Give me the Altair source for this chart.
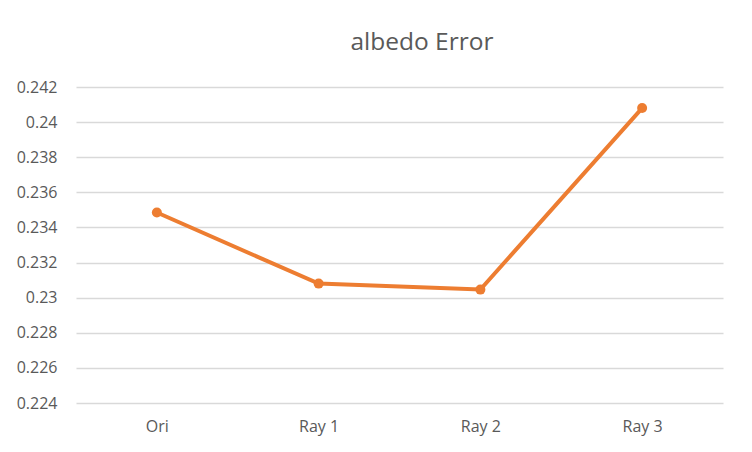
import altair as alt
import pandas as pd

categories = ["Ori", "Ray 1", "Ray 2", "Ray 3"]
values = [0.23485, 0.2308, 0.23046, 0.2408]
y_ticks = [0.224, 0.226, 0.228, 0.230, 0.232, 0.234, 0.236, 0.238, 0.240, 0.242]
title_text = "albedo Error"

df = pd.DataFrame({"cat": categories, "val": values})

FONT = "Open Sans"
GRAY = "#595959"
ORANGE = "#ED7D31"

x_enc = alt.X("cat:N", sort=categories,
              scale=alt.Scale(type="point", padding=0.5),
              axis=alt.Axis(title=None, labelAngle=0, domain=False, ticks=False,
                            grid=False, labelPadding=15, labelFontSize=16,
                            labelColor=GRAY, labelFont=FONT))
y_enc = alt.Y("val:Q",
              scale=alt.Scale(domain=[0.224, 0.242], nice=False, zero=False),
              axis=alt.Axis(title=None, values=y_ticks, format=".3~f", domain=False,
                            ticks=False, grid=True, gridColor="#d9d9d9", gridWidth=1.6,
                            labelOverlap=False, labelPadding=19, labelFontSize=16,
                            labelColor=GRAY, labelFont=FONT))

base = alt.Chart(df).encode(x=x_enc, y=y_enc)
line = base.mark_line(color=ORANGE, strokeWidth=4)
points = base.mark_point(filled=True, color=ORANGE, size=100, opacity=1)

title = alt.Chart(pd.DataFrame({"t": [title_text]})).mark_text(
    font=FONT, fontSize=24.5, color=GRAY, align="center", baseline="middle"
).encode(text="t:N", x=alt.value(346), y=alt.value(-44))

chart = alt.layer(line, points, title).properties(
    width=647, height=316,
    autosize=alt.AutoSizeParams(type="none"),
    padding={"left": 68, "top": 79, "right": 20, "bottom": 40},
).configure(background="white", view=alt.ViewConfig(stroke=None))

chart.save("out.html", embed_options={"renderer": "svg", "actions": False})
